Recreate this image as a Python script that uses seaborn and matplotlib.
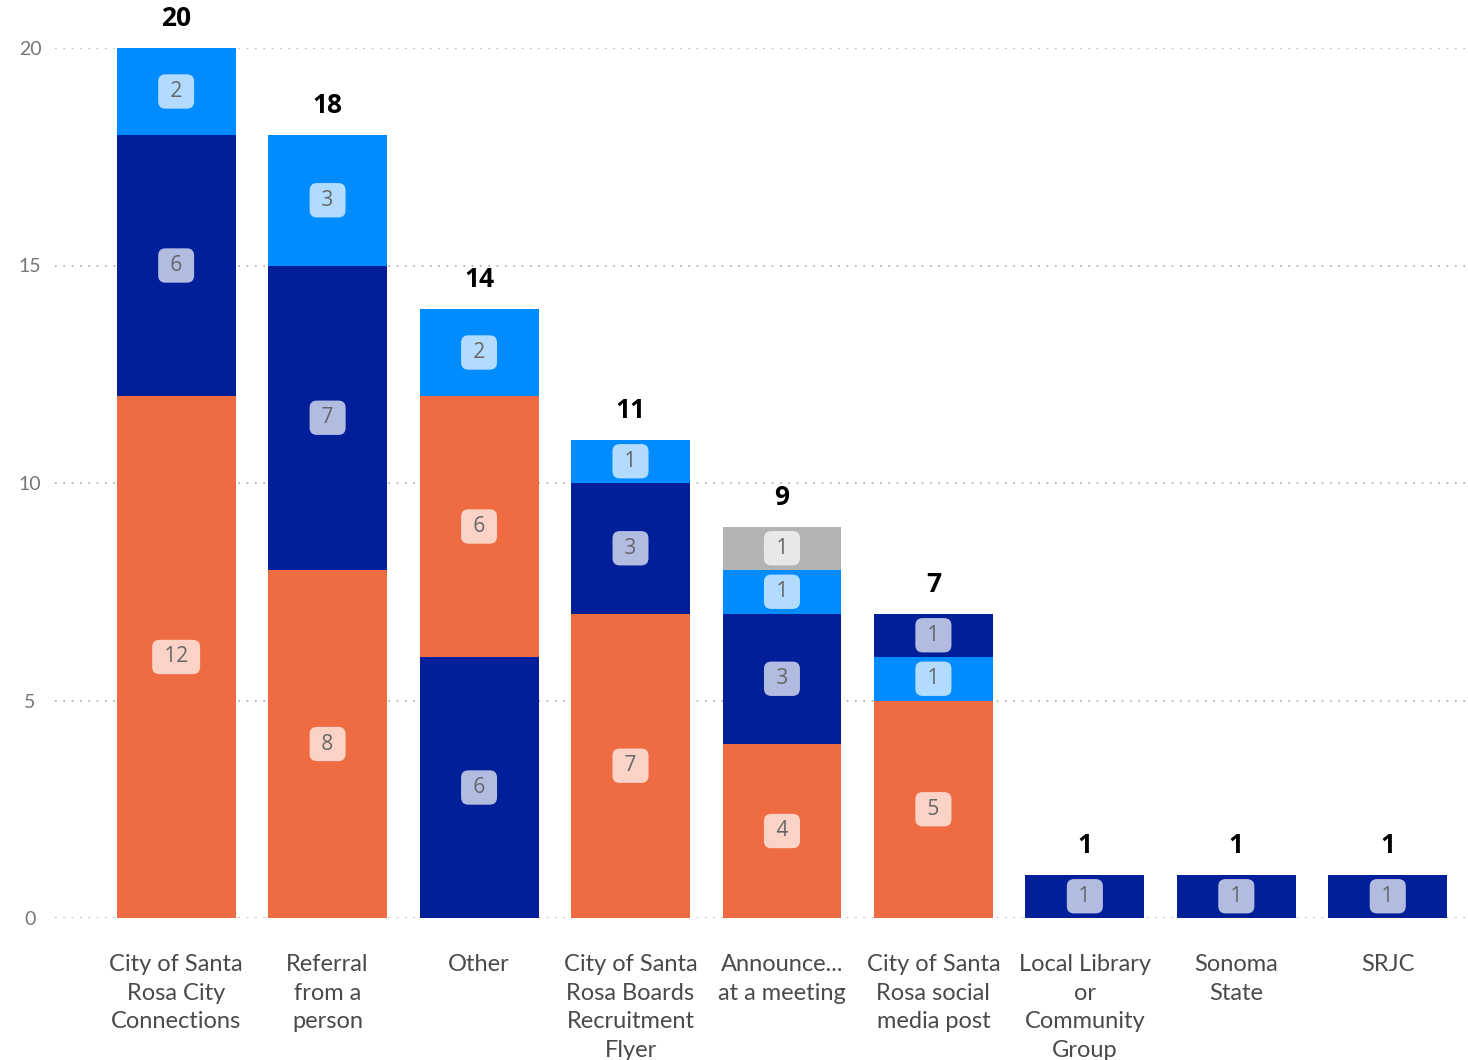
import numpy as np
import pandas as pd
import matplotlib
matplotlib.use("Agg")
import matplotlib.pyplot as plt
import seaborn as sns

categories = ["City of Santa\nRosa City\nConnections", "Referral\nfrom a\nperson", "Other",
              "City of Santa\nRosa Boards\nRecruitment\nFlyer", "Announce...\nat a meeting",
              "City of Santa\nRosa social\nmedia post", "Local Library\nor\nCommunity\nGroup",
              "Sonoma\nState", "SRJC"]

# segment values per series
orange_vals = [12, 8, 6, 7, 4, 5, 0, 0, 0]
navy_vals = [6, 7, 6, 3, 3, 1, 1, 1, 1]
blue_vals = [2, 3, 2, 1, 1, 1, 0, 0, 0]
grey_vals = [0, 0, 0, 0, 1, 0, 0, 0, 0]

# stacking order (bottom to top) as drawn in each column
stack_order = [["orange", "navy", "blue"], ["orange", "navy", "blue"], ["navy", "orange", "blue"],
               ["orange", "navy", "blue"], ["orange", "navy", "blue", "grey"],
               ["orange", "blue", "navy"], ["navy"], ["navy"], ["navy"]]

series = {"orange": orange_vals, "navy": navy_vals, "blue": blue_vals, "grey": grey_vals}
palette = {"orange": "#EF6C42", "navy": "#011F98", "blue": "#008CFF", "grey": "#B3B3B3"}

# build long table of segments
rows = []
for i, cat in enumerate(categories):
    base = 0
    for lvl, s in enumerate(stack_order[i]):
        v = series[s][i]
        rows.append({"cat": cat, "series": s, "level": lvl, "bottom": base, "top": base + v, "value": v})
        base += v
seg = pd.DataFrame(rows)

sns.set_style("white")
plt.rcParams['font.family'] = ['Lato', 'DejaVu Sans']

fig = plt.figure(figsize=(14.68, 10.6), dpi=100)
ax = fig.add_axes([55 / 1468, 1 - 918 / 1060, (1465 - 55) / 1468, 870 / 1060])

# draw levels from the top down so lower segments cover upper bars
for lvl in sorted(seg["level"].unique(), reverse=True):
    d = seg[seg["level"] == lvl]
    sns.barplot(data=d, x="cat", y="top", hue="series", palette=palette, order=categories,
                dodge=False, width=0.785, legend=False, ax=ax, zorder=2, linewidth=0,
                saturation=1)

# segment labels
for _, r in seg.iterrows():
    if r["value"] > 0:
        i = categories.index(r["cat"])
        ax.text(i, (r["bottom"] + r["top"]) / 2, " " + str(r["value"]) + " ", ha="center", va="center",
                fontsize=15, color="#666666", zorder=5, family=["Open Sans", "DejaVu Sans"],
                bbox=dict(boxstyle="round,pad=0.32,rounding_size=0.35", fc="white", alpha=0.7, ec="none"))

# totals
totals = seg.groupby("cat", sort=False)["value"].sum()
for i, cat in enumerate(categories):
    ax.annotate(str(totals[cat]), (i, totals[cat]), xytext=(0, 21), textcoords="offset points",
                ha="center", va="center", fontsize=19, fontweight="bold", color="black",
                family=["Open Sans", "DejaVu Sans"], annotation_clip=False)

ax.set_xlim(-0.80, 8.51)
ax.set_ylim(0, 20)
ax.set_yticks([0, 5, 10, 15, 20])
for y in [0, 5, 10, 15, 20]:
    ax.axhline(y, color="#AAAAAA", linestyle=(0, (1, 4)), linewidth=1.2, zorder=1)
for sp in ax.spines.values():
    sp.set_visible(False)
ax.set_xlabel("")
ax.set_ylabel("")
ax.tick_params(axis="y", length=0, labelsize=14, labelcolor="#777777", pad=18)
ax.tick_params(axis="x", length=0, labelsize=17, labelcolor="#4A4A4A", pad=26)
ax.set_xticks(range(len(categories)))
ax.set_xticklabels(categories, va="top", ha="center", linespacing=1.45)
for t in ax.get_yticklabels():
    t.set_horizontalalignment("center")

fig.savefig("out.png", dpi=100)
